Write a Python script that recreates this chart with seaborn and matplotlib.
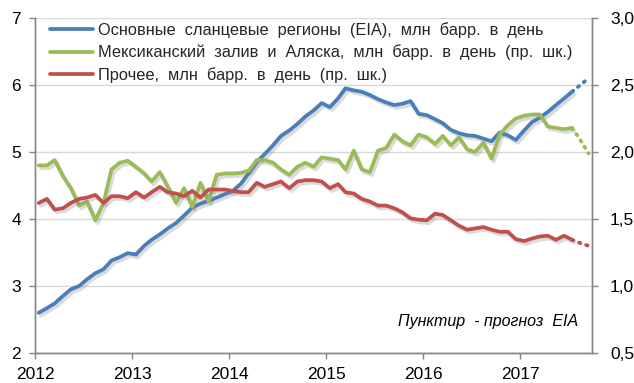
import numpy as np
import pandas as pd
import matplotlib
matplotlib.use("Agg")
import matplotlib.pyplot as plt
import matplotlib.dates as mdates
import matplotlib.patheffects as pe
from matplotlib.lines import Line2D
from matplotlib.ticker import FuncFormatter, MultipleLocator
import seaborn as sns

# Monthly US crude output, Jan 2012 - Sep 2017 (last two months are EIA forecast)
shale = [2.60, 2.67, 2.74, 2.85, 2.95, 3.00, 3.10, 3.19, 3.25, 3.38, 3.43, 3.49,
         3.47, 3.60, 3.69, 3.77, 3.86, 3.94, 4.05, 4.17, 4.23, 4.27, 4.32, 4.37,
         4.42, 4.53, 4.68, 4.85, 4.97, 5.10, 5.24, 5.32, 5.42, 5.53, 5.62, 5.73,
         5.67, 5.80, 5.95, 5.92, 5.90, 5.85, 5.79, 5.74, 5.70, 5.72, 5.76, 5.57,
         5.55, 5.49, 5.43, 5.33, 5.28, 5.25, 5.24, 5.20, 5.16, 5.29, 5.25, 5.18,
         5.32, 5.45, 5.51, 5.60, 5.70, 5.80, 5.90, 6.00, 6.10]
gulf_alaska = [1.90, 1.90, 1.94, 1.82, 1.73, 1.60, 1.63, 1.49, 1.62, 1.87, 1.92, 1.935,
               1.89, 1.84, 1.78, 1.85, 1.74, 1.62, 1.73, 1.59, 1.77, 1.63, 1.83, 1.84,
               1.84, 1.845, 1.86, 1.94, 1.94, 1.92, 1.87, 1.83, 1.89, 1.92, 1.89, 1.96,
               1.95, 1.94, 1.87, 2.01, 1.87, 1.85, 2.01, 2.03, 2.13, 2.08, 2.05, 2.13,
               2.11, 2.06, 2.12, 2.05, 2.11, 2.02, 2.00, 2.07, 1.95, 2.13, 2.20, 2.25,
               2.27, 2.28, 2.28, 2.19, 2.18, 2.17, 2.18, 2.09, 1.99]
other = [1.62, 1.65, 1.57, 1.58, 1.62, 1.65, 1.66, 1.68, 1.62, 1.67, 1.67, 1.655,
         1.70, 1.66, 1.70, 1.74, 1.70, 1.69, 1.67, 1.71, 1.66, 1.72, 1.72, 1.72,
         1.71, 1.70, 1.70, 1.77, 1.74, 1.76, 1.78, 1.73, 1.78, 1.79, 1.79, 1.78,
         1.73, 1.76, 1.70, 1.69, 1.65, 1.63, 1.60, 1.60, 1.58, 1.55, 1.505, 1.495,
         1.49, 1.54, 1.53, 1.49, 1.45, 1.42, 1.43, 1.44, 1.42, 1.405, 1.405, 1.35,
         1.335, 1.355, 1.37, 1.375, 1.345, 1.375, 1.345, 1.32, 1.30]
n_actual = 67  # observed months; the rest is forecast

series_labels = [
    "Основные  сланцевые  регионы  (EIA),  млн  барр.  в  день",
    "Мексиканский  залив  и  Аляска,  млн  барр.  в  день  (пр.  шк.)",
    "Прочее,  млн  барр.  в  день  (пр.  шк.)",
]
note_text = "Пунктир  - прогноз  EIA"
year_ticks = [2012, 2013, 2014, 2015, 2016, 2017]

colors = ["#4A7EBB", "#9BBB59", "#C0504D"]

dates = pd.date_range("2012-01-01", periods=len(shale), freq="MS") + pd.Timedelta(days=14)
df = pd.DataFrame({"date": dates, "shale": shale, "gulf": gulf_alaska, "other": other})
actual = df.iloc[:n_actual]
forecast = df.iloc[n_actual - 1:]

sns.set_theme(style="white")
plt.rcParams["font.family"] = ["Liberation Sans", "DejaVu Sans"]

fig = plt.figure(figsize=(6.34, 3.83), dpi=100)
ax = fig.add_axes([35 / 634, 1 - 353 / 383, (592 - 35) / 634, (353 - 18) / 383])
ax2 = ax.twinx()

lw = 2.7
shadow = [pe.SimpleLineShadow(offset=(1.6, -2.0), shadow_color="#7f7f7f", alpha=0.28),
          pe.Normal()]

sns.lineplot(data=actual, x="date", y="shale", ax=ax, color=colors[0], lw=lw,
             path_effects=shadow, solid_capstyle="round", solid_joinstyle="round")
sns.lineplot(data=forecast, x="date", y="shale", ax=ax, color=colors[0], lw=lw,
             linestyle=(0, (0.4, 1.6)), dash_capstyle="round")
for col, c in (("gulf", colors[1]), ("other", colors[2])):
    sns.lineplot(data=actual, x="date", y=col, ax=ax2, color=c, lw=lw,
                 path_effects=shadow, solid_capstyle="round", solid_joinstyle="round")
    sns.lineplot(data=forecast, x="date", y=col, ax=ax2, color=c, lw=lw,
                 linestyle=(0, (0.4, 1.6)), dash_capstyle="round")

ax.set_ylim(2, 7)
ax2.set_ylim(0.5, 3.0)
ax.yaxis.set_major_locator(MultipleLocator(1))
ax2.yaxis.set_major_locator(MultipleLocator(0.5))
ax2.yaxis.set_major_formatter(FuncFormatter(lambda v, p: f"{v:.1f}".replace(".", ",")))

ax.set_xlim(pd.Timestamp("2012-01-01"), pd.Timestamp("2017-09-28"))
ax.set_xticks([pd.Timestamp(f"{y}-01-01") for y in year_ticks])
ax.xaxis.set_major_formatter(mdates.DateFormatter("%Y"))

ax.set_xlabel("")
ax.set_ylabel("")
ax2.set_ylabel("")

ax.grid(axis="y", color="#D9D9D9", lw=1.0)
ax.grid(axis="x", visible=False)
ax2.grid(False)
ax.set_axisbelow(True)

spine_c = "#868686"
for a in (ax, ax2):
    a.spines["top"].set_visible(False)
    for s in ("left", "right", "bottom"):
        a.spines[s].set_color(spine_c)
        a.spines[s].set_linewidth(1.0)
ax.tick_params(axis="both", which="major", direction="out", length=4, width=1,
               color=spine_c, labelsize=12.5, labelcolor="black")
ax.tick_params(axis="y", left=True, right=False, pad=6)
ax.tick_params(axis="x", bottom=True, pad=6)
ax2.tick_params(axis="y", direction="out", length=4, width=1, color=spine_c,
                labelsize=12.5, labelcolor="black", right=True, pad=9)

handles = [Line2D([], [], color=c, lw=lw) for c in colors]
leg = ax.legend(handles, series_labels, loc="upper left", bbox_to_anchor=(0.01, 1.018),
                frameon=False, fontsize=11.8, handlelength=2.6, handletextpad=0.3,
                labelspacing=0.42, borderaxespad=0.2)

ax.text(0.975, 0.095, note_text, transform=ax.transAxes, ha="right", va="center",
        style="italic", fontsize=11.5, color="black")

fig.savefig("out.png", dpi=100)
